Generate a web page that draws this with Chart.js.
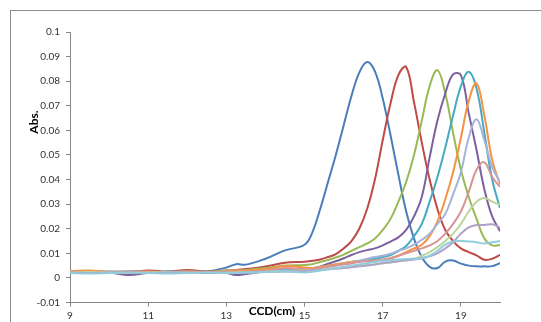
<!DOCTYPE html>
<html>
<head>
<meta charset="utf-8">
<script src="https://cdn.jsdelivr.net/npm/chart.js@4.4.0/dist/chart.umd.min.js"></script>
<style>
    html, body { margin: 0; padding: 0; background: #fff; }
    #wrap { position: relative; width: 541px; height: 322px; overflow: hidden; }
    #frame { position: absolute; left: 10px; top: 10px; width: 600px; height: 400px; border: 1px solid #8c8c8c; }
    canvas { position: absolute; left: 0; top: 0; }
</style>
</head>
<body>
<div id="wrap">
    <div id="frame"></div>
    <canvas id="chart" width="541" height="322"></canvas>
</div>
<script>
// elution volume (cm) shared by all traces
const ccd = [9, 9.5, 10, 10.5, 11, 11.5, 12, 12.5, 13, 13.25, 13.5, 14, 14.5, 15, 15.2, 15.4, 15.6, 15.8, 16, 16.2, 16.4, 16.6, 16.8, 17, 17.2, 17.4, 17.6, 17.8, 18, 18.2, 18.4, 18.6, 18.8, 19, 19.2, 19.4, 19.6, 19.8, 20];

// absorbance traces
const blue = [0.0028, 0.0026, 0.0022, 0.0026, 0.0028, 0.0022, 0.0022, 0.0026, 0.0042, 0.0056, 0.0054, 0.0078, 0.0112, 0.0135, 0.0185, 0.028, 0.039, 0.05, 0.062, 0.074, 0.0835, 0.0878, 0.084, 0.073, 0.058, 0.042, 0.027, 0.016, 0.0085, 0.0045, 0.004, 0.0066, 0.0071, 0.0058, 0.005, 0.0047, 0.0047, 0.0048, 0.006];
const red = [0.0026, 0.0028, 0.0024, 0.0022, 0.003, 0.0026, 0.0032, 0.0026, 0.003, 0.0032, 0.0036, 0.0046, 0.0062, 0.0066, 0.007, 0.0075, 0.0085, 0.0097, 0.012, 0.015, 0.02, 0.028, 0.04, 0.056, 0.071, 0.0825, 0.0858, 0.0715, 0.055, 0.04, 0.028, 0.0195, 0.015, 0.012, 0.0105, 0.0092, 0.0074, 0.0078, 0.0094];
const green = [0.0028, 0.0025, 0.0024, 0.0026, 0.0025, 0.0024, 0.0026, 0.0025, 0.003, 0.003, 0.0032, 0.004, 0.005, 0.0052, 0.0056, 0.0065, 0.0073, 0.0083, 0.0095, 0.011, 0.0125, 0.014, 0.016, 0.0195, 0.024, 0.031, 0.039, 0.05, 0.064, 0.078, 0.0845, 0.075, 0.059, 0.044, 0.033, 0.024, 0.016, 0.0132, 0.0134];
const purple = [0.0022, 0.002, 0.0022, 0.0012, 0.002, 0.0022, 0.002, 0.0022, 0.002, 0.0012, 0.0016, 0.0026, 0.003, 0.0032, 0.0036, 0.0046, 0.0058, 0.0068, 0.008, 0.0093, 0.0105, 0.0113, 0.012, 0.0132, 0.0148, 0.0165, 0.0195, 0.025, 0.033, 0.049, 0.064, 0.075, 0.0828, 0.0825, 0.067, 0.052, 0.036, 0.025, 0.019];
const cyan = [0.0024, 0.0022, 0.0026, 0.0024, 0.0022, 0.0026, 0.0024, 0.0022, 0.0025, 0.0025, 0.0026, 0.003, 0.0035, 0.0038, 0.004, 0.0045, 0.005, 0.0055, 0.006, 0.0065, 0.007, 0.0072, 0.0078, 0.0085, 0.0093, 0.011, 0.013, 0.017, 0.022, 0.031, 0.041, 0.053, 0.066, 0.078, 0.0838, 0.077, 0.059, 0.04, 0.0284];
const orange = [0.0028, 0.003, 0.0025, 0.0024, 0.0026, 0.0024, 0.0025, 0.0024, 0.0027, 0.003, 0.003, 0.0035, 0.0048, 0.0042, 0.004, 0.0045, 0.005, 0.0055, 0.006, 0.0065, 0.0068, 0.007, 0.007, 0.0072, 0.008, 0.009, 0.0105, 0.012, 0.0135, 0.017, 0.023, 0.032, 0.043, 0.057, 0.072, 0.0792, 0.066, 0.048, 0.038];
const lavender = [0.0022, 0.002, 0.0022, 0.0024, 0.002, 0.0022, 0.002, 0.0022, 0.0022, 0.0022, 0.0022, 0.0025, 0.003, 0.003, 0.0035, 0.004, 0.0045, 0.005, 0.0055, 0.006, 0.007, 0.0078, 0.0085, 0.009, 0.0098, 0.011, 0.012, 0.0135, 0.0155, 0.018, 0.022, 0.026, 0.034, 0.043, 0.057, 0.0645, 0.056, 0.045, 0.039];
const pink = [0.0026, 0.0025, 0.0024, 0.0026, 0.0025, 0.0024, 0.0026, 0.0024, 0.0025, 0.0026, 0.0026, 0.003, 0.004, 0.0035, 0.0035, 0.004, 0.0045, 0.005, 0.0055, 0.006, 0.0065, 0.0068, 0.007, 0.0075, 0.008, 0.009, 0.01, 0.011, 0.012, 0.0132, 0.015, 0.018, 0.022, 0.027, 0.035, 0.044, 0.047, 0.041, 0.037];
const lightGreen = [0.0022, 0.0024, 0.0022, 0.002, 0.0022, 0.0024, 0.0022, 0.002, 0.0022, 0.0022, 0.0024, 0.0025, 0.0028, 0.003, 0.003, 0.0032, 0.0035, 0.0038, 0.004, 0.0045, 0.005, 0.0052, 0.0055, 0.006, 0.0063, 0.0068, 0.0072, 0.0078, 0.009, 0.0105, 0.0125, 0.015, 0.018, 0.022, 0.027, 0.031, 0.0325, 0.031, 0.0298];
const lightPurple = [0.0022, 0.002, 0.0022, 0.0022, 0.002, 0.0022, 0.0022, 0.002, 0.0022, 0.002, 0.0022, 0.0024, 0.0026, 0.0028, 0.003, 0.0032, 0.0035, 0.0038, 0.004, 0.0043, 0.0047, 0.005, 0.0055, 0.006, 0.0064, 0.0068, 0.0072, 0.0075, 0.008, 0.0088, 0.01, 0.012, 0.0145, 0.018, 0.0205, 0.0215, 0.0215, 0.0218, 0.0205];
const lightCyan = [0.002, 0.0018, 0.002, 0.0022, 0.002, 0.0018, 0.002, 0.0022, 0.002, 0.002, 0.0022, 0.0024, 0.0026, 0.0022, 0.0025, 0.003, 0.0035, 0.004, 0.0045, 0.005, 0.0055, 0.006, 0.0065, 0.007, 0.0072, 0.0075, 0.0077, 0.0078, 0.008, 0.009, 0.011, 0.0135, 0.0148, 0.015, 0.0148, 0.0145, 0.014, 0.0145, 0.015];

const xTicks = [9, 11, 13, 15, 17, 19];
const yTicks = [-0.01, 0, 0.01, 0.02, 0.03, 0.04, 0.05, 0.06, 0.07, 0.08, 0.09, 0.1];
const yLabels = ['-0.01', '0', '0.01', '0.02', '0.03', '0.04', '0.05', '0.06', '0.07', '0.08', '0.09', '0.1'];

const traces = [
    [blue, '#4A7EBB'],
    [red, '#BE4B48'],
    [green, '#98B954'],
    [purple, '#7D60A0'],
    [cyan, '#46AAC5'],
    [orange, '#F69240'],
    [lavender, '#A3B4DA'],
    [pink, '#DA9494'],
    [lightGreen, '#BDD49A'],
    [lightPurple, '#AFA1CA'],
    [lightCyan, '#92CDDC']
];

const axisColor = '#868686';
const tickFont = { family: 'Lato', size: 10 };

// axis titles sit over the tick labels, like in the original
const axisTitles = {
    id: 'axisTitles',
    afterDraw(chart) {
        const ctx = chart.ctx;
        ctx.save();
        ctx.fillStyle = '#000';
        ctx.font = 'bold 12px Lato';
        ctx.textAlign = 'center';
        ctx.textBaseline = 'middle';
        ctx.fillText('CCD(cm)', 272, 311);
        ctx.translate(34, 122);
        ctx.rotate(-Math.PI / 2);
        ctx.fillText('Abs.', 0, 0);
        ctx.restore();
    }
};

new Chart(document.getElementById('chart'), {
    type: 'line',
    data: {
        datasets: traces.map(([vals, color], i) => ({
            data: ccd.map((x, j) => ({ x: x, y: vals[j] })),
            borderColor: color,
            backgroundColor: color,
            borderWidth: 2,
            pointRadius: 0,
            tension: 0.4,
            fill: false,
            order: -i
        }))
    },
    options: {
        responsive: false,
        animation: false,
        layout: { padding: { top: 32, right: 41, left: 0, bottom: 0 } },
        plugins: {
            legend: { display: false },
            tooltip: { enabled: false }
        },
        scales: {
            x: {
                type: 'linear',
                min: 9,
                max: 20,
                afterBuildTicks: s => { s.ticks = xTicks.map(v => ({ value: v })); },
                afterFit: s => { s.height = 19.5; },
                ticks: { color: '#333', font: tickFont, padding: 3, maxRotation: 0, callback: v => String(v) },
                grid: { drawOnChartArea: false, drawTicks: true, tickLength: 4, color: axisColor },
                border: { color: axisColor }
            },
            y: {
                min: -0.01,
                max: 0.1,
                afterBuildTicks: s => { s.ticks = yTicks.map(v => ({ value: v })); },
                afterFit: s => { s.width = 70; },
                ticks: {
                    color: '#333',
                    font: tickFont,
                    padding: 6,
                    callback: (v, i) => yLabels[i]
                },
                grid: { drawOnChartArea: false, drawTicks: true, tickLength: 4, color: axisColor },
                border: { color: axisColor }
            }
        }
    },
    plugins: [axisTitles]
});
</script>
</body>
</html>
